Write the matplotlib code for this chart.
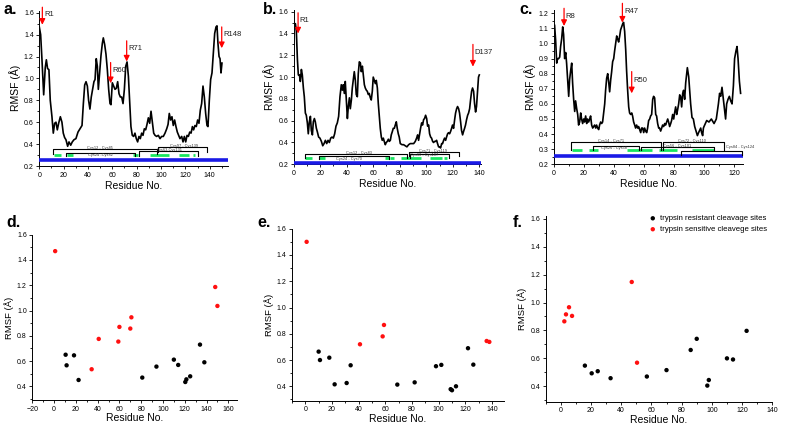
import matplotlib
matplotlib.use("Agg")
import matplotlib.pyplot as plt
from matplotlib.ticker import MultipleLocator

plt.rcParams['font.family'] = ['Liberation Sans', 'DejaVu Sans']

W, H = 787, 424

# ---------------- data: RMSF traces ----------------
a_res = [0, 1.1, 2.2, 3.6, 4.9, 5.8, 6.8, 7.9, 9.0, 10.4, 11.5, 12.6, 13.7, 14.8, 15.9, 17.3, 18.6, 19.7, 20.8, 21.9,
         23.3, 24.4, 25.8, 27.1, 28.5, 30.1, 31.8, 33.4, 35.1, 36.2, 37.3, 38.4, 39.5, 40.5, 41.6, 42.7, 43.8, 44.9,
         45.8, 46.8, 47.7, 48.5, 49.6, 50.7, 51.8, 52.6, 53.7, 54.8, 55.9, 57.0, 58.1, 58.9, 60.0, 61.1, 62.2, 63.3,
         64.4, 65.5, 66.6, 67.7, 68.8, 69.9, 71.0, 72.1, 73.2, 74.2, 75.3, 76.4, 77.5, 78.6, 79.7, 80.8, 81.9, 83.0,
         84.1, 85.2, 86.3, 87.4, 88.5, 89.6, 90.7, 91.8, 92.9, 94.0, 95.1, 96.4, 97.8, 99.2, 100.5, 101.9, 103.3,
         104.7, 105.8, 106.8, 107.9, 109.0, 110.1, 111.2, 112.3, 113.4, 114.5, 115.6, 117.0, 118.1, 119.2, 120.3,
         121.4, 122.5, 123.6, 124.7, 125.8, 126.8, 127.9, 129.0, 130.1, 131.2, 132.3, 133.4, 134.5, 135.6, 136.7,
         137.8, 138.6, 139.7, 140.8, 141.9, 143.0, 144.1, 145.2, 146.0, 146.8, 147.7, 148.5, 149.3, 150.1]
a_rmsf = [1.47, 1.40, 1.17, 0.85, 1.10, 1.17, 1.09, 1.08, 0.80, 0.65, 0.50, 0.59, 0.60, 0.53, 0.59, 0.65, 0.60, 0.50,
          0.46, 0.44, 0.38, 0.42, 0.39, 0.42, 0.44, 0.45, 0.51, 0.54, 0.57, 0.77, 0.94, 0.97, 0.93, 0.80, 0.72, 0.83,
          0.90, 0.97, 0.99, 1.18, 1.11, 0.90, 1.06, 1.21, 1.32, 1.37, 1.31, 1.22, 1.08, 0.90, 0.77, 0.76, 0.96, 0.93,
          0.90, 0.91, 0.97, 0.86, 0.83, 0.83, 0.77, 0.90, 1.11, 1.15, 1.02, 0.80, 0.56, 0.48, 0.47, 0.50, 0.45, 0.42,
          0.47, 0.45, 0.50, 0.48, 0.54, 0.53, 0.58, 0.64, 0.59, 0.70, 0.60, 0.50, 0.48, 0.47, 0.48, 0.45, 0.47, 0.47,
          0.50, 0.54, 0.58, 0.68, 0.62, 0.65, 0.57, 0.62, 0.56, 0.51, 0.48, 0.45, 0.47, 0.42, 0.47, 0.42, 0.48, 0.47,
          0.51, 0.50, 0.56, 0.53, 0.57, 0.56, 0.62, 0.59, 0.71, 0.77, 0.93, 0.83, 0.68, 0.57, 0.56, 0.80, 0.99, 1.05,
          1.23, 1.41, 1.47, 1.48, 1.32, 1.20, 1.18, 1.05, 1.14]

b_res = [0.5, 1.3, 2.0, 2.8, 3.5, 4.3, 5.0, 5.8, 6.5, 7.3, 8.0, 8.8, 9.5, 10.3, 11.0, 11.8, 12.6, 13.3, 14.1, 14.8,
         15.6, 16.3, 17.1, 17.8, 18.8, 19.8, 20.9, 21.9, 22.9, 23.9, 24.9, 25.9, 26.9, 27.9, 28.9, 29.9, 30.9, 31.9,
         32.9, 33.9, 34.9, 35.9, 36.7, 37.4, 38.2, 38.9, 39.7, 40.5, 41.2, 42.0, 42.7, 43.5, 44.2, 44.9, 45.7, 46.5,
         47.2, 48.0, 48.7, 49.5, 50.3, 51.0, 51.8, 52.5, 53.3, 54.0, 54.8, 55.5, 56.3, 57.0, 57.8, 58.5, 59.3, 60.0,
         60.8, 61.6, 62.3, 63.1, 63.8, 64.6, 65.3, 66.1, 66.8, 67.6, 68.3, 69.1, 69.8, 70.6, 71.4, 72.1, 72.9, 73.6,
         74.4, 75.1, 75.9, 76.6, 77.4, 78.1, 78.9, 79.6, 80.4, 81.7, 82.9, 84.2, 85.4, 86.7, 87.9, 89.2, 90.5, 91.7,
         92.7, 93.5, 94.2, 95.0, 95.7, 96.5, 97.2, 98.0, 98.7, 99.5, 100.3, 101.0, 101.8, 102.5, 103.3, 104.0, 104.8,
         105.5, 106.3, 107.0, 107.8, 108.5, 109.3, 110.0, 110.8, 111.6, 112.3, 113.1, 113.8, 114.6, 115.3, 116.1,
         116.8, 117.6, 118.3, 119.1, 119.8, 120.6, 121.4, 122.1, 122.9, 123.6, 124.4, 125.1, 125.9, 126.6, 127.4,
         128.1, 128.9, 129.6, 130.4, 131.2, 131.9, 132.7, 133.4, 134.2, 134.9, 135.7, 136.4, 137.2, 137.9, 138.7,
         139.4, 140.0]
b_rmsf = [1.49, 1.49, 1.42, 1.16, 1.02, 1.02, 0.96, 1.07, 1.02, 0.90, 0.82, 0.67, 0.65, 0.58, 0.48, 0.59, 0.64, 0.51,
          0.47, 0.59, 0.62, 0.59, 0.53, 0.50, 0.45, 0.44, 0.41, 0.37, 0.39, 0.42, 0.39, 0.42, 0.40, 0.44, 0.45, 0.44,
          0.48, 0.55, 0.58, 0.64, 0.82, 0.93, 0.88, 0.93, 0.85, 0.96, 0.79, 0.62, 0.73, 0.81, 0.71, 0.79, 0.90, 0.97,
          1.05, 0.97, 0.84, 0.82, 1.03, 1.14, 1.13, 1.05, 1.10, 1.02, 0.93, 0.90, 0.88, 0.87, 0.84, 0.85, 0.81, 0.79,
          0.87, 1.00, 0.97, 0.94, 0.97, 0.90, 0.76, 0.64, 0.53, 0.45, 0.42, 0.44, 0.41, 0.38, 0.40, 0.41, 0.43, 0.41,
          0.42, 0.47, 0.50, 0.53, 0.53, 0.56, 0.59, 0.53, 0.48, 0.45, 0.39, 0.38, 0.38, 0.37, 0.36, 0.38, 0.39, 0.39,
          0.39, 0.41, 0.44, 0.47, 0.42, 0.48, 0.53, 0.58, 0.56, 0.61, 0.62, 0.65, 0.62, 0.55, 0.56, 0.48, 0.45, 0.44,
          0.41, 0.40, 0.41, 0.41, 0.42, 0.39, 0.36, 0.36, 0.35, 0.39, 0.39, 0.42, 0.44, 0.42, 0.45, 0.48, 0.49, 0.48,
          0.50, 0.53, 0.56, 0.53, 0.61, 0.67, 0.71, 0.73, 0.71, 0.67, 0.59, 0.51, 0.47, 0.50, 0.53, 0.56, 0.61, 0.65,
          0.67, 0.71, 0.79, 0.87, 0.90, 0.87, 0.76, 0.68, 0.73, 0.88, 1.00, 1.02]

c_res = [0.4, 1.1, 1.8, 2.4, 3.1, 3.8, 4.4, 5.1, 5.8, 6.4, 7.1, 7.8, 8.4, 9.1, 9.8, 10.4, 11.1, 11.8, 12.4, 13.1,
         13.8, 14.4, 15.1, 15.8, 16.4, 17.1, 17.8, 18.4, 19.1, 19.8, 20.4, 21.1, 21.8, 22.4, 23.1, 23.8, 24.4, 25.1,
         25.8, 26.4, 27.1, 27.8, 28.4, 29.1, 29.8, 30.4, 31.1, 31.8, 32.4, 33.1, 33.8, 34.4, 35.1, 35.8, 36.4, 37.1,
         37.8, 38.4, 39.1, 39.8, 40.4, 41.1, 41.8, 42.4, 43.1, 43.8, 44.4, 45.1, 45.8, 46.4, 47.1, 47.8, 48.4, 49.1,
         49.8, 50.4, 51.1, 51.8, 52.4, 53.1, 53.8, 54.4, 55.1, 55.8, 56.4, 57.1, 57.8, 58.4, 59.1, 59.8, 60.4, 61.1,
         61.8, 62.4, 63.1, 63.8, 64.4, 65.1, 65.8, 66.4, 67.1, 67.8, 68.4, 69.1, 69.8, 70.4, 71.1, 71.8, 72.4, 73.1,
         73.8, 74.4, 75.1, 75.8, 76.4, 77.1, 77.8, 78.4, 79.1, 79.8, 80.4, 81.1, 81.8, 82.4, 83.1, 83.8, 84.4, 85.1,
         85.8, 86.4, 87.1, 87.8, 88.9, 89.8, 90.4, 91.1, 92.0, 92.9, 93.8, 94.7, 95.6, 96.4, 97.8, 98.4, 99.1, 99.6,
         100.0, 101.8, 103.3, 104.9, 106.7, 108.2, 109.6, 110.4, 111.1, 112.0, 112.9, 113.8, 114.4, 115.1, 116.0,
         116.9, 117.8, 118.7, 119.6, 120.4, 121.3, 122.0, 122.7, 123.6, 124.4]
c_rmsf = [1.12, 1.02, 0.87, 0.90, 0.90, 0.91, 0.98, 1.03, 1.11, 1.06, 0.90, 0.94, 0.87, 0.76, 0.65, 0.76, 0.82, 0.87,
          0.74, 0.63, 0.55, 0.62, 0.57, 0.53, 0.46, 0.48, 0.54, 0.50, 0.47, 0.50, 0.48, 0.52, 0.47, 0.50, 0.48, 0.50,
          0.52, 0.46, 0.44, 0.45, 0.46, 0.44, 0.46, 0.44, 0.43, 0.46, 0.48, 0.47, 0.48, 0.54, 0.60, 0.69, 0.77, 0.80,
          0.75, 0.68, 0.76, 0.81, 0.88, 0.90, 0.95, 1.00, 1.05, 1.03, 1.01, 1.05, 1.09, 1.11, 1.13, 1.14, 1.08, 0.96,
          0.82, 0.69, 0.58, 0.54, 0.53, 0.54, 0.52, 0.48, 0.46, 0.44, 0.46, 0.44, 0.45, 0.43, 0.41, 0.44, 0.44, 0.41,
          0.44, 0.42, 0.41, 0.44, 0.49, 0.50, 0.52, 0.53, 0.63, 0.65, 0.64, 0.53, 0.52, 0.47, 0.44, 0.44, 0.42, 0.44,
          0.46, 0.45, 0.47, 0.46, 0.48, 0.50, 0.48, 0.45, 0.47, 0.49, 0.53, 0.50, 0.54, 0.58, 0.53, 0.56, 0.60, 0.66,
          0.65, 0.58, 0.67, 0.69, 0.63, 0.74, 0.84, 0.78, 0.70, 0.60, 0.51, 0.50, 0.45, 0.42, 0.39, 0.41, 0.44, 0.41,
          0.39, 0.44, 0.45, 0.49, 0.48, 0.50, 0.47, 0.50, 0.60, 0.67, 0.65, 0.71, 0.63, 0.55, 0.50, 0.60, 0.63, 0.65,
          0.62, 0.60, 0.72, 0.90, 0.95, 0.98, 0.90, 0.75, 0.67]

# ---------------- data: cleavage sites ----------------
d_sens_res = [1, 34.5, 41, 59, 60, 70, 71, 148, 150]
d_sens_rmsf = [1.47, 0.535, 0.775, 0.754, 0.87, 0.857, 0.946, 1.186, 1.036]
d_res_res = [10.6, 11.5, 18.3, 22.5, 81, 94, 110, 114, 120.5, 121.5, 125, 134, 138]
d_res_rmsf = [0.65, 0.566, 0.645, 0.45, 0.469, 0.556, 0.611, 0.569, 0.434, 0.455, 0.479, 0.73, 0.59]

e_sens_res = [1, 41, 58, 59, 136, 138]
e_sens_rmsf = [1.50, 0.72, 0.78, 0.867, 0.745, 0.738]
e_res_res = [10, 11, 18, 22, 31, 34, 69, 82, 98, 102, 109, 110, 113, 122, 126]
e_res_rmsf = [0.664, 0.60, 0.618, 0.415, 0.425, 0.56, 0.413, 0.43, 0.553, 0.563, 0.378, 0.37, 0.40, 0.69, 0.565]

f_sens_res = [2.4, 3.5, 5.5, 7.5, 47, 50.5]
f_sens_rmsf = [0.865, 0.915, 0.966, 0.904, 1.147, 0.569]
f_res_res = [16, 20.5, 24.5, 33, 57, 70, 86, 90, 97, 98, 110, 114, 123]
f_res_rmsf = [0.548, 0.493, 0.508, 0.458, 0.47, 0.516, 0.66, 0.74, 0.405, 0.445, 0.60, 0.592, 0.797]

legend_labels = ["trypsin resistant cleavage sites", "trypsin sensitive cleavege sites"]

# ---------------- annotation data (top panels) ----------------
# brackets: (start, end, level, drop-to, label, label_x, label_y)
a_brackets = [(11, 96.4, 0.352, 0.31, "Cys12 - Cys85", 50, 0.36),
              (22, 78.6, 0.32, 0.29, "Cys24 -Cys82", 50, 0.30),
              (97.5, 138, 0.377, 0.33, "Cys97 - Cys139", 119, 0.385),
              (82, 130, 0.34, 0.29, "Cys63-Cys131", 107, 0.345)]
a_green = [(12.3, 17.8), (22.5, 27.4), (76.7, 81.4), (91, 106.8), (115, 123.3), (126, 128)]
a_arrows = [("R1", 2.5, 1.65, 1.49), ("R60", 58.6, 1.145, 0.956), ("R71", 71.8, 1.343, 1.154),
            ("R148", 149.9, 1.47, 1.276)]

b_brackets = [(8.8, 85.4, 0.292, 0.255, "Cys12 - Cys83", 49, 0.30),
              (18.8, 71.6, 0.276, 0.25, "Cys24 - Cys70", 42, 0.25),
              (86.7, 124.4, 0.316, 0.28, "Cys71 - Cys119", 105, 0.322),
              (88, 116.8, 0.292, 0.255, "Cys60 - Cys107", 98, 0.285)]
b_green = [(8.8, 13.8), (19.3, 23.9), (68.6, 71.6), (72.9, 75.4), (81.2, 96.2), (103, 111.8), (113.6, 115.6)]
b_arrows = [("R1", 3.3, 1.59, 1.40), ("D137", 135.2, 1.30, 1.096)]

c_brackets = [(11.6, 71.6, 0.35, 0.295, "Cys14 - Cys71", 38, 0.357),
              (26.2, 56.7, 0.324, 0.295, "Cys26 - Cys58", 40, 0.308),
              (72.9, 113.3, 0.346, 0.295, "Cys72 - Cys110", 92, 0.353),
              (57.8, 106.7, 0.317, 0.295, "Cys56 - Cys101", 82, 0.318),
              (84.4, 125.6, 0.29, 0.262, "Cys84 - Cys124", 124, 0.312)]
c_green = [(12.2, 18.9), (23.3, 29.3), (48.9, 65.6), (70, 82.2), (92.2, 106.7)]
c_arrows = [("R8", 6.7, 1.233, 1.116), ("R47", 45.6, 1.266, 1.138), ("R50", 51.8, 0.814, 0.67)]

TICK_FS = 5
LAB_FS = 7.5


def make_ax(xpx, xval, ypx, yval, xlim, ylim):
    sx = (xpx[1] - xpx[0]) / (xval[1] - xval[0])
    left = xpx[0] + (xlim[0] - xval[0]) * sx
    right = xpx[0] + (xlim[1] - xval[0]) * sx
    sy = (ypx[1] - ypx[0]) / (yval[1] - yval[0])
    bottom = ypx[0] + (ylim[0] - yval[0]) * sy
    top = ypx[0] + (ylim[1] - yval[0]) * sy
    ax = fig.add_axes([left / W, 1 - bottom / H, (right - left) / W, (bottom - top) / H])
    ax.set_xlim(*xlim)
    ax.set_ylim(*ylim)
    for s in ('top', 'right'):
        ax.spines[s].set_visible(False)
    for s in ('left', 'bottom'):
        ax.spines[s].set_linewidth(0.7)
    ax.tick_params(which='both', direction='out', labelsize=TICK_FS, width=0.6, pad=1.5)
    ax.tick_params(which='major', length=2.5)
    ax.tick_params(which='minor', length=1.5)
    return ax


def decorate_top(ax, brackets, green, arrows, bar_y, gy, xmax):
    ax.plot([0, xmax], [bar_y, bar_y], color='#1a1ae6', lw=2.6, solid_capstyle='butt', clip_on=False, zorder=3)
    for x0, x1 in green:
        ax.plot([x0, x1], [gy, gy], color='#19e660', lw=2.0, solid_capstyle='butt', zorder=3)
    for x0, x1, lev, drop, lab, tx, ty in brackets:
        ax.plot([x0, x0, x1, x1], [drop, lev, lev, drop], color='black', lw=0.8, clip_on=False, zorder=4)
        ax.text(tx, ty, lab, fontsize=2.8, color='#333333', ha='center', va='center', clip_on=False, zorder=5)
    for lab, x, ytail, ytip in arrows:
        ax.annotate('', xy=(x, ytip), xytext=(x, ytail),
                    arrowprops=dict(arrowstyle='-|>', color='red', lw=0.9, mutation_scale=8.5,
                                    shrinkA=0, shrinkB=0), annotation_clip=False)
        ax.text(x + 1.4 * (xmax / 150), ytail - 0.04 * (ytail - ytip) / 0.19 - 0.03, lab, fontsize=5.5,
                color='#222222', ha='left', va='center')


fig = plt.figure(figsize=(W / 100, H / 100), dpi=100)

# ---- panel a ----
ax = make_ax((39.3, 161.0), (0, 100), (166.0, 12.7), (0.2, 1.6), (0, 155), (0.2, 1.62))
ax.plot(a_res, a_rmsf, color='black', lw=1.2, zorder=2)
ax.xaxis.set_major_locator(MultipleLocator(20)); ax.xaxis.set_minor_locator(MultipleLocator(10))
ax.yaxis.set_major_locator(MultipleLocator(0.2)); ax.yaxis.set_minor_locator(MultipleLocator(0.1))
decorate_top(ax, a_brackets, a_green, a_arrows, 0.255, 0.30, 155)
ax.set_xlabel("Residue No.", fontsize=LAB_FS, labelpad=1.5)
ax.set_ylabel("RMSF (Å)", fontsize=LAB_FS, labelpad=2)

# ---- panel b ----
ax = make_ax((293.7, 479.3), (0, 140), (164.3, 11.7), (0.2, 1.6), (0, 141), (0.2, 1.62))
ax.plot(b_res, b_rmsf, color='black', lw=1.2, zorder=2)
ax.xaxis.set_major_locator(MultipleLocator(20)); ax.xaxis.set_minor_locator(MultipleLocator(10))
ax.yaxis.set_major_locator(MultipleLocator(0.2)); ax.yaxis.set_minor_locator(MultipleLocator(0.1))
decorate_top(ax, b_brackets, b_green, b_arrows, 0.215, 0.255, 141)
ax.set_xlabel("Residue No.", fontsize=LAB_FS, labelpad=1.5)
ax.set_ylabel("RMSF (Å)", fontsize=LAB_FS, labelpad=2)

# ---- panel c ----
ax = make_ax((554.0, 734.0), (0, 120), (164.3, 13.3), (0.2, 1.2), (0, 126), (0.2, 1.22))
ax.plot(c_res, c_rmsf, color='black', lw=1.2, zorder=2)
ax.xaxis.set_major_locator(MultipleLocator(20)); ax.xaxis.set_minor_locator(MultipleLocator(10))
ax.yaxis.set_major_locator(MultipleLocator(0.1)); ax.yaxis.set_minor_locator(MultipleLocator(0.05))
decorate_top(ax, c_brackets, c_green, c_arrows, 0.255, 0.295, 126)
ax.set_xlabel("Residue No.", fontsize=LAB_FS, labelpad=1.5)
ax.set_ylabel("RMSF (Å)", fontsize=LAB_FS, labelpad=2)


def scatter_panel(ax, rr, rv, sr, sv):
    ax.scatter(rr, rv, s=10, color='black', edgecolors='none', zorder=3, label=legend_labels[0])
    ax.scatter(sr, sv, s=10, color='#ff1010', edgecolors='none', zorder=3, label=legend_labels[1])
    ax.xaxis.set_major_locator(MultipleLocator(20)); ax.xaxis.set_minor_locator(MultipleLocator(10))
    ax.yaxis.set_major_locator(MultipleLocator(0.2)); ax.yaxis.set_minor_locator(MultipleLocator(0.1))
    ax.set_yticks([0.4, 0.6, 0.8, 1.0, 1.2, 1.4, 1.6])
    ax.set_xlabel("Residue No.", fontsize=LAB_FS, labelpad=0.5)
    ax.set_ylabel("RMSF (Å)", fontsize=6.8, labelpad=2)


# ---- panel d ----
ax = make_ax((32.3, 228.3), (-20, 160), (386.3, 234.7), (0.4, 1.6), (-20, 168), (0.29, 1.6))
scatter_panel(ax, d_res_res, d_res_rmsf, d_sens_res, d_sens_rmsf)

# ---- panel e ----
ax = make_ax((305.3, 492.0), (0, 140), (386.3, 228.7), (0.4, 1.6), (-10, 149), (0.29, 1.6))
scatter_panel(ax, e_res_res, e_res_rmsf, e_sens_res, e_sens_rmsf)

# ---- panel f ----
ax = make_ax((560.7, 772.3), (0, 140), (386.3, 218.7), (0.4, 1.6), (-10, 140), (0.29, 1.62))
scatter_panel(ax, f_res_res, f_res_rmsf, f_sens_res, f_sens_rmsf)
ax.legend(loc='upper left', bbox_to_anchor=(645 / W, 1 - 211 / H), bbox_transform=fig.transFigure,
          frameon=False, fontsize=5.6, handletextpad=0.4, borderpad=0, labelspacing=0.45,
          handlelength=1.0, markerscale=1.0)

# panel letters
for lab, x, y in [("a.", 4, 10), ("b.", 263, 10), ("c.", 519, 10), ("d.", 6, 222), ("e.", 257, 222), ("f.", 513, 222)]:
    fig.text(x / W, 1 - y / H, lab, fontsize=11.5, fontweight='bold', ha='left', va='center')

fig.savefig("out.png", dpi=100)
